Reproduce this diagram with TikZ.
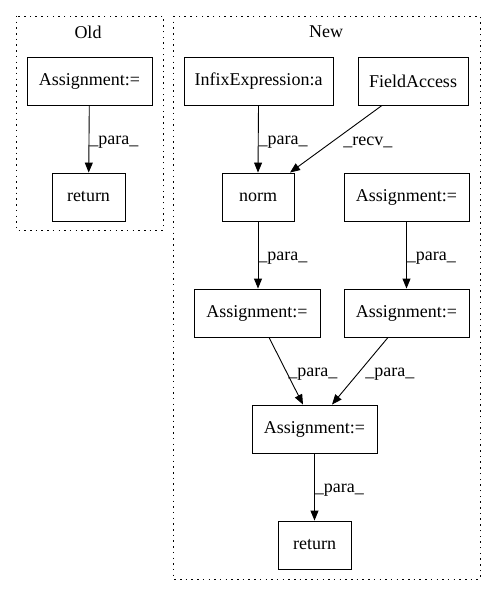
\documentclass[tikz,border=0pt]{standalone}
\usepackage{fontspec}
\setmainfont{Liberation Serif}
\usepackage{tikz}
\usetikzlibrary{arrows.meta,positioning}

\tikzset{
  box/.style={draw, line width=0.9pt, minimum height=48pt, inner sep=0pt, fill=white},
  cluster/.style={draw, line width=0.9pt, dash pattern=on 1.5pt off 4.2pt},
  edge/.style={-{Triangle[length=10pt,width=8pt]}, line width=0.9pt},
  lbl/.style={inner sep=0pt, yshift=-3pt}
}

\begin{document}
\begin{tikzpicture}[x=1pt, y=-1pt, font=\fontsize{18}{21}\selectfont]
\useasboundingbox (0,0) rectangle (496,596);

% clusters
\draw[cluster] (16,16) rectangle (163,230);
\node(oldtitle) at (88,32) {Old};
\draw[cluster] (173,16) rectangle (480,579);
\node(newtitle) at (326,32) {New};

% old
\node[box, minimum width=125pt](oldasg) at (89.5,81) {Assignment:=};
\node[box, minimum width=73pt](oldret) at (88.5,197) {return};

% new
\node[box, minimum width=149pt](infix) at (258.5,81) {InfixExpression:a};
\node[box, minimum width=110pt](field) at (413,81) {FieldAccess};
\node[box, minimum width=72pt](norm) at (258,197) {norm};
\node[box, minimum width=125pt](asg1) at (406.5,197) {Assignment:=};
\node[box, minimum width=126pt](asg2) at (257,313) {Assignment:=};
\node[box, minimum width=125pt](asg3) at (406.5,313) {Assignment:=};
\node[box, minimum width=125pt](asg4) at (314.5,429) {Assignment:=};
\node[box, minimum width=73pt](newret) at (314.5,545) {return};

\draw[edge] (oldasg) -- node[lbl, right]{\_para\_} (oldret);
\draw[edge] (infix.south) -- node[lbl, right]{\_para\_} (norm.north);
\draw[edge] ([xshift=-31pt]field.south) -- node[lbl, right=7pt]{\_recv\_} ([xshift=32pt]norm.north);
\draw[edge] (norm) -- node[lbl, right]{\_para\_} (norm |- asg2.north);
\draw[edge] (asg1) -- node[lbl, right]{\_para\_} (asg3);
\draw[edge] ([xshift=12pt]asg2.south) -- node[lbl, right=2pt]{\_para\_} ([xshift=-11.5pt]asg4.north);
\draw[edge] ([xshift=-18.5pt]asg3.south) -- node[lbl, right=5pt]{\_para\_} ([xshift=17.5pt]asg4.north);
\draw[edge] (asg4) -- node[lbl, right]{\_para\_} (newret);
\end{tikzpicture}
\end{document}
